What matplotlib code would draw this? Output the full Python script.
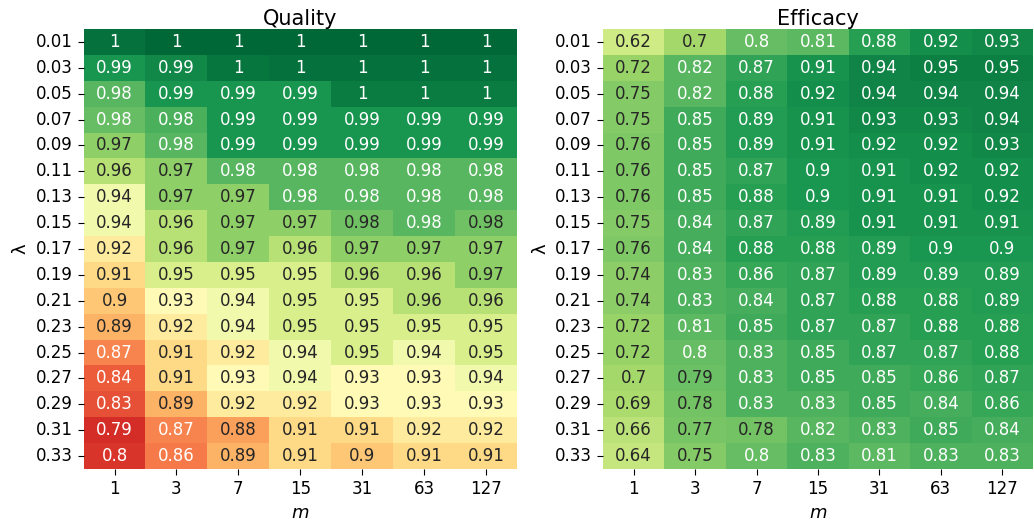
import numpy as np
import matplotlib
matplotlib.use("Agg")
import matplotlib.pyplot as plt
import matplotlib.colors as mcolors
import seaborn as sns

lambdas = ["0.01", "0.03", "0.05", "0.07", "0.09", "0.11", "0.13", "0.15", "0.17",
           "0.19", "0.21", "0.23", "0.25", "0.27", "0.29", "0.31", "0.33"]
ms = ["1", "3", "7", "15", "31", "63", "127"]

quality = [
    [0.998, 1.00, 1.00, 1.00, 1.00, 1.00, 1.00],
    [0.99, 0.993, 0.997, 0.998, 0.998, 0.998, 0.998],
    [0.98, 0.99, 0.99, 0.99, 0.996, 0.996, 0.996],
    [0.978, 0.982, 0.99, 0.99, 0.99, 0.99, 0.99],
    [0.97, 0.98, 0.99, 0.99, 0.99, 0.99, 0.99],
    [0.96, 0.97, 0.98, 0.98, 0.98, 0.98, 0.98],
    [0.94, 0.97, 0.97, 0.98, 0.98, 0.98, 0.98],
    [0.94, 0.96, 0.97, 0.97, 0.976, 0.98, 0.976],
    [0.92, 0.96, 0.97, 0.96, 0.97, 0.97, 0.97],
    [0.91, 0.95, 0.95, 0.95, 0.96, 0.96, 0.97],
    [0.90, 0.93, 0.94, 0.95, 0.95, 0.96, 0.96],
    [0.89, 0.92, 0.94, 0.95, 0.95, 0.95, 0.95],
    [0.866, 0.91, 0.92, 0.94, 0.95, 0.94, 0.95],
    [0.84, 0.91, 0.93, 0.94, 0.93, 0.93, 0.94],
    [0.83, 0.89, 0.92, 0.92, 0.93, 0.93, 0.93],
    [0.79, 0.866, 0.88, 0.91, 0.91, 0.92, 0.92],
    [0.80, 0.86, 0.89, 0.91, 0.90, 0.91, 0.91],
]

efficacy = [
    [0.62, 0.70, 0.80, 0.81, 0.88, 0.92, 0.93],
    [0.72, 0.82, 0.87, 0.91, 0.94, 0.95, 0.95],
    [0.75, 0.82, 0.88, 0.92, 0.94, 0.94, 0.94],
    [0.75, 0.85, 0.89, 0.91, 0.93, 0.93, 0.94],
    [0.76, 0.85, 0.89, 0.91, 0.92, 0.92, 0.93],
    [0.76, 0.85, 0.87, 0.90, 0.91, 0.92, 0.92],
    [0.76, 0.85, 0.88, 0.90, 0.91, 0.91, 0.92],
    [0.75, 0.84, 0.87, 0.89, 0.91, 0.91, 0.91],
    [0.76, 0.84, 0.88, 0.88, 0.89, 0.90, 0.90],
    [0.74, 0.83, 0.86, 0.87, 0.89, 0.89, 0.89],
    [0.74, 0.83, 0.84, 0.87, 0.88, 0.88, 0.89],
    [0.72, 0.81, 0.85, 0.87, 0.87, 0.88, 0.88],
    [0.72, 0.80, 0.83, 0.85, 0.87, 0.87, 0.88],
    [0.70, 0.79, 0.83, 0.85, 0.85, 0.86, 0.87],
    [0.69, 0.78, 0.83, 0.83, 0.85, 0.84, 0.86],
    [0.66, 0.77, 0.78, 0.82, 0.83, 0.85, 0.84],
    [0.64, 0.75, 0.80, 0.83, 0.81, 0.83, 0.83],
]

fig = plt.figure(figsize=(10.34, 5.23), dpi=100)
ax1 = fig.add_axes([0.0808, 0.1033, 0.4192, 0.8413])
ax2 = fig.add_axes([0.5832, 0.1033, 0.4159, 0.8413])

q = np.array(quality)
e = np.array(efficacy)

annot_kw = {"fontsize": 12}
sns.heatmap(q, ax=ax1, cmap="RdYlGn", norm=mcolors.PowerNorm(gamma=10, vmin=0, vmax=1),
            annot=True, fmt=".2g", annot_kws=annot_kw, cbar=False,
            xticklabels=ms, yticklabels=lambdas)
sns.heatmap(e, ax=ax2, cmap="RdYlGn", vmin=0, vmax=1,
            annot=True, fmt=".2g", annot_kws=annot_kw, cbar=False,
            xticklabels=ms, yticklabels=lambdas)

for ax, title in ((ax1, "Quality"), (ax2, "Efficacy")):
    ax.set_title(title, fontsize=15, pad=3)
    ax.set_xlabel("$m$", fontsize=13)
    ax.set_ylabel("λ", fontsize=13)
    ax.tick_params(axis="both", labelsize=12, length=4.5)
    plt.setp(ax.get_yticklabels(), rotation=0)
    plt.setp(ax.get_xticklabels(), rotation=0)

fig.savefig("out.png", dpi=100)
